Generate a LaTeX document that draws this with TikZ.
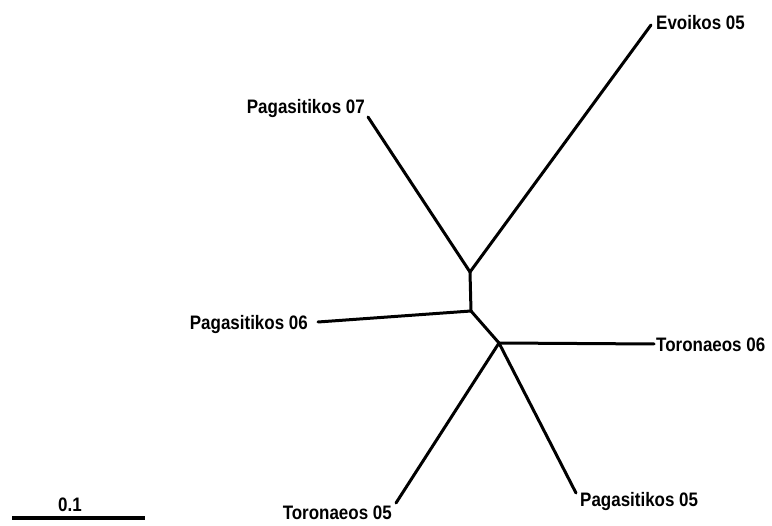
\documentclass[tikz,border=0pt]{standalone}
\usepackage{fontspec}
\setmainfont{Liberation Sans}
\newfontfamily\lblfont[FakeStretch=0.87]{Liberation Sans Bold}
\begin{document}
\begin{tikzpicture}[x=1pt,y=-1pt,
  branch/.style={line width=3pt,line cap=round,line join=round},
  lbl/.style={font=\lblfont\fontsize{19.5}{22}\selectfont,inner sep=0pt},
  inner/.style={inner sep=0pt,minimum size=0pt}]
\useasboundingbox (0,0) rectangle (772,526);
% internal nodes
\coordinate (A) at (470,272);
\coordinate (B) at (471,311);
\coordinate (C) at (499,343);
% leaf ends
\coordinate (eE) at (651,25);
\coordinate (eP7) at (368,117);
\coordinate (eP6) at (318,322);
\coordinate (eT6) at (654,344);
\coordinate (eP5) at (576,493);
\coordinate (eT5) at (396,503);
% branches
\draw[branch] (A) -- (B);
\draw[branch] (A) -- (eE);
\draw[branch] (A) -- (eP7);
\draw[branch] (B) -- (eP6);
\draw[branch] (B) -- (C);
\draw[branch] (C) -- (eT6);
\draw[branch] (C) -- (eP5);
\draw[branch] (C) -- (eT5);
% labels
\node[lbl,anchor=base west] (lE) at (656,30) {Evoikos 05};
\node[lbl,anchor=base east] (lP7) at (365,114) {Pagasitikos 07};
\node[lbl,anchor=base east] (lP6) at (308,330) {Pagasitikos 06};
\node[lbl,anchor=base west] (lT6) at (656,352) {Toronaeos 06};
\node[lbl,anchor=base west] (lP5) at (580,507) {Pagasitikos 05};
\node[lbl,anchor=base east] (lT5) at (392,520) {Toronaeos 05};
% scale bar
\coordinate (s1) at (12,518);
\coordinate (s2) at (145,518);
\draw[line width=4pt] (s1) -- (s2);
\node[lbl,anchor=base] (sl) at (70,512) {0.1};
\end{tikzpicture}
\end{document}
